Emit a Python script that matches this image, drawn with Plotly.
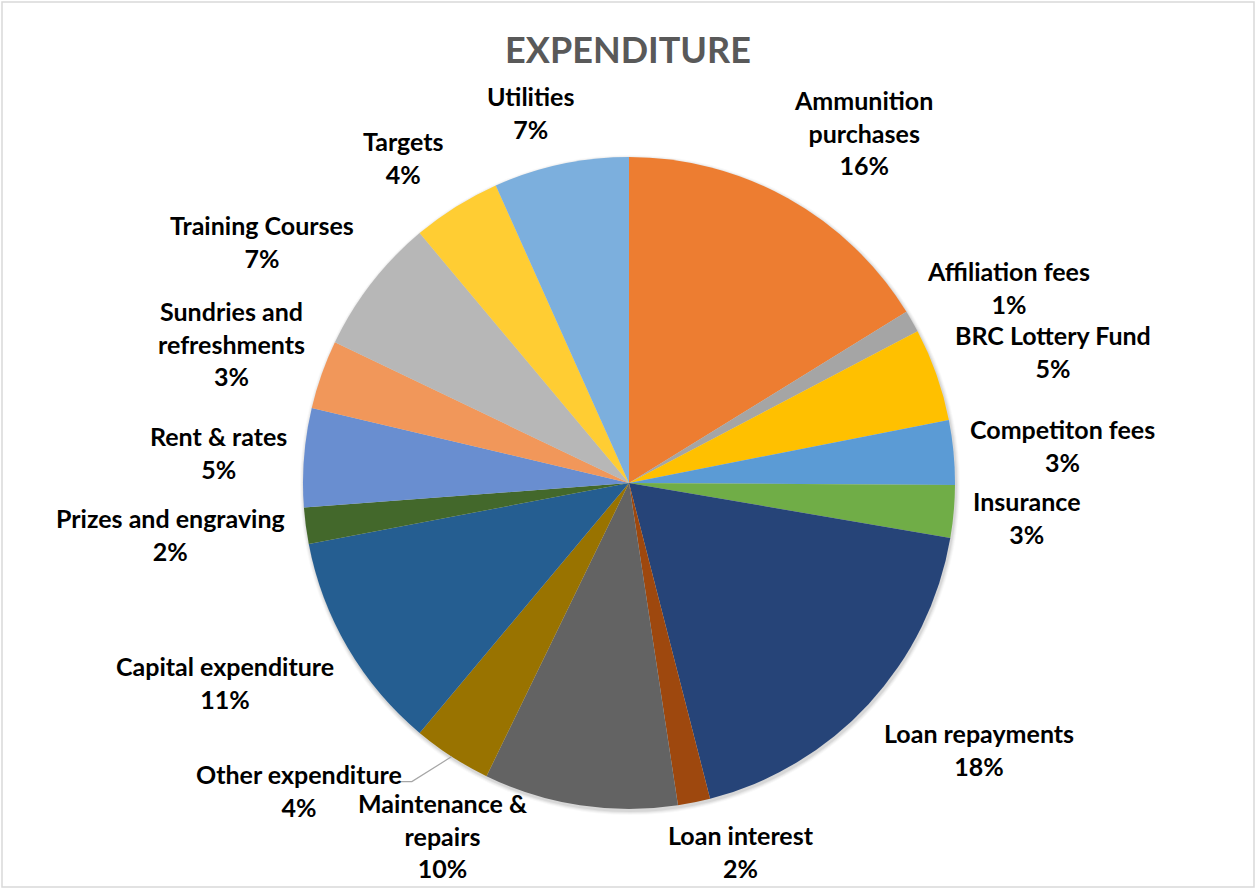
import math
import plotly.graph_objects as go

categories = [
    "Ammunition purchases", "Affiliation fees", "BRC Lottery Fund", "Competiton fees",
    "Insurance", "Loan repayments", "Loan interest", "Maintenance & repairs",
    "Other expenditure", "Capital expenditure", "Prizes and engraving", "Rent & rates",
    "Sundries and refreshments", "Training Courses", "Targets", "Utilities",
]
display_labels = [
    "Ammunition<br>purchases", "Affiliation fees", "BRC Lottery Fund", "Competiton fees",
    "Insurance", "Loan repayments", "Loan interest", "Maintenance &<br>repairs",
    "Other expenditure", "Capital expenditure", "Prizes and engraving", "Rent & rates",
    "Sundries and<br>refreshments", "Training Courses", "Targets", "Utilities",
]
values = [16.2, 1.1, 4.6, 3.2, 2.6, 18.3, 1.6, 9.6, 3.9, 10.9, 1.8, 4.9, 3.4, 6.8, 4.4, 6.7]
colors = [
    "#ED7D31", "#A5A5A5", "#FFC000", "#5B9BD5", "#70AD47", "#264478", "#9E480E", "#636363",
    "#997300", "#255E91", "#43682B", "#698ED0", "#F1975A", "#B7B7B7", "#FFCD33", "#7CAFDD",
]
# labels that Excel moved off their default spot (pixel nudge) and joined with a leader line
label_nudges = {"Other expenditure": (-46, -15)}

W, H = 1256, 888
CX, CY, R = 629, 483, 326
FONT = 25
LINE_H = 1.3 * FONT
GAP = 20


def text_width(s):
    w = 0.0
    for ch in s:
        if ch in "iltfrjI ":
            w += 0.28
        elif ch in "mwMW":
            w += 0.85
        elif ch.isupper():
            w += 0.65
        else:
            w += 0.53
    return w * FONT


def px_to_paper(x, y):
    return x / W, 1 - y / H


total = sum(values)
annotations = []
shapes = []

# soft shadow under the pie
for k, a in [(4, 0.025), (3, 0.035), (2, 0.045), (1, 0.06)]:
    x0, y0 = px_to_paper(CX + 1 - R - k, CY + 2 - R - k)
    x1, y1 = px_to_paper(CX + 1 + R + k, CY + 2 + R + k)
    shapes.append(dict(type="circle", xref="paper", yref="paper", x0=x0, x1=x1, y0=y1, y1=y0,
                       fillcolor=f"rgba(0,0,0,{a})", line=dict(width=0), layer="below"))

cum = 0.0
for cat, lab, v in zip(categories, display_labels, values):
    th = 2 * math.pi * (cum + v / 2) / total
    cum += v
    s, c = math.sin(th), math.cos(th)
    text = f"{lab}<br>{round(100 * v / total)}%"
    lines = text.split("<br>")
    w = max(text_width(t) for t in lines)
    h = len(lines) * LINE_H
    gx = max(-1, min(1, 3 * s))
    gy = max(-1, min(1, 1.5 * c))
    lx = CX + (R + GAP) * s + w / 2 * gx
    ly = CY - (R + GAP) * c - h / 2 * gy
    # keep inside the chart area
    ly = min(ly, H - 4 - h / 2)
    ly = max(ly, 4 + h / 2)

    # keep the (tight) text box clear of the pie
    def dist(lx_, ly_):
        left, right = lx_ - w / 2, lx_ + w / 2
        top, bottom = ly_ - h / 2 + 0.2 * FONT, ly_ + h / 2 - 0.2 * FONT
        dx = max(left - CX, 0, CX - right)
        dy = max(top - CY, 0, CY - bottom)
        return math.hypot(dx, dy)
    step = 1 if s >= 0 else -1
    n = 0
    while dist(lx, ly) < R and n < 400:
        lx += step
        n += 1

    if cat in label_nudges:
        nx, ny = label_nudges[cat]
        lx += nx
        ly += ny
        # leader line from slice edge to label
        ex, ey = CX + R * s, CY - R * c
        side = 1 if ex > lx else -1
        ax = lx + side * (w / 2 + 5)
        ay = ly - h / 2 + LINE_H * 0.5 + 7
        bx = ax + side * 12
        p = [px_to_paper(ax, ay), px_to_paper(bx, ay), px_to_paper(ex, ey)]
        path = f"M {p[0][0]},{p[0][1]} L {p[1][0]},{p[1][1]} L {p[2][0]},{p[2][1]}"
        shapes.append(dict(type="path", xref="paper", yref="paper", path=path,
                           line=dict(color="#A6A6A6", width=1.2)))

    px_, py_ = px_to_paper(lx, ly)
    annotations.append(dict(x=px_, y=py_, xref="paper", yref="paper", text=text,
                            showarrow=False, xanchor="center", yanchor="middle", align="center",
                            font=dict(family="Lato", size=FONT, color="#000000", weight="bold")))

fig = go.Figure(go.Pie(
    labels=categories,
    values=values,
    textinfo="none",
    marker=dict(colors=colors, line=dict(width=0)),
    sort=False,
    direction="clockwise",
    rotation=0,
    showlegend=False,
    domain=dict(x=[(CX - R) / W, (CX + R) / W], y=[(H - CY - R) / H, (H - CY + R) / H]),
))

shapes.append(dict(type="rect", xref="paper", yref="paper",
                   x0=2 / W, x1=1 - 2 / W, y0=1 / H, y1=1 - 2 / H,
                   line=dict(color="#D9D9D9", width=1.5)))

fig.update_layout(
    width=W, height=H,
    margin=dict(l=0, r=0, t=0, b=0),
    paper_bgcolor="white",
    title=dict(text="EXPENDITURE", x=0.5, xanchor="center", y=1 - 50 / H, yanchor="middle",
               yref="container",
               font=dict(family="Lato", size=36, color="#595959", weight="bold")),
    annotations=annotations,
    shapes=shapes,
)

fig.write_html("out.html",
               config={"displayModeBar": False},
               post_script="document.body.style.margin='0';document.body.style.overflow='hidden';")
